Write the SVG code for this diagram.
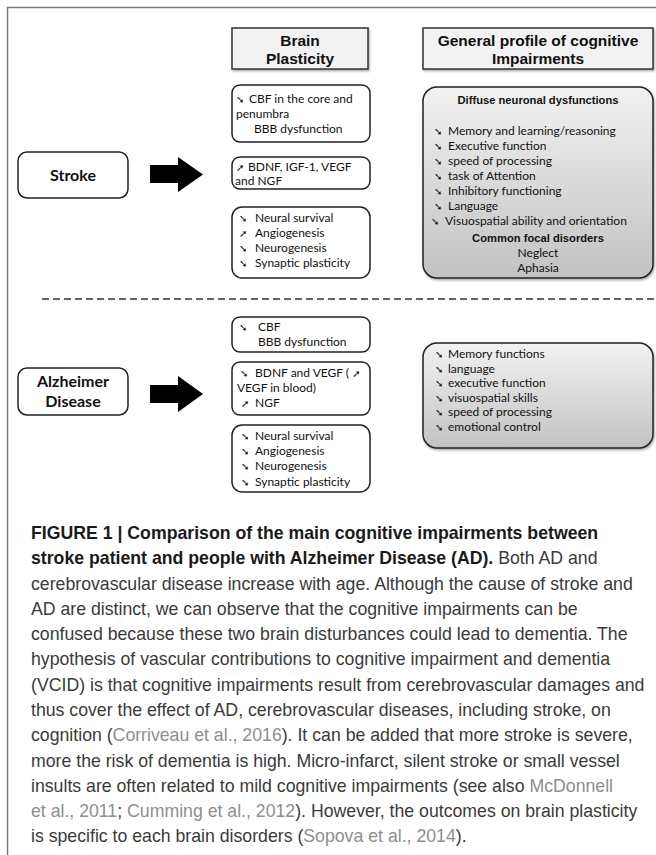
<svg xmlns="http://www.w3.org/2000/svg" width="656" height="855" viewBox="0 0 656 855">
<style>
.frame{fill:none;stroke:#7a7a7a;stroke-width:1.5}
.hdr{fill:#f2f2f2;stroke:#333;stroke-width:1.5}
.box{fill:#fff;stroke:#222;stroke-width:1.5}
.gbox{fill:url(#gg);stroke:#222;stroke-width:1.5}
.ht{font-family:"Liberation Sans",Arial,sans-serif;font-weight:bold;font-size:15.5px;fill:#111;text-anchor:middle}
.dt{font-family:Lato,"Liberation Sans",sans-serif;font-weight:bold;font-size:16px;fill:#111;text-anchor:middle}
.t{font-family:Lato,"Liberation Sans",sans-serif;font-size:12px;fill:#111}
.ar{font-family:"DejaVu Sans",sans-serif;font-size:10px;fill:#111}
.gt{font-family:"Liberation Sans",Arial,sans-serif;font-weight:bold;font-size:11.2px;fill:#111;text-anchor:middle}
.cap{font-family:"Liberation Sans",Arial,sans-serif;font-size:17.7px;fill:#3a3a3a}
.b{font-weight:bold;fill:#1a1a1a}
.ref{fill:#8e8e8e}
.dash{stroke:#333;stroke-width:1.5;stroke-dasharray:7 4;fill:none}
.bigarrow{fill:#000}
</style>
<defs>
<linearGradient id="gg" x1="0" y1="0" x2="0" y2="1">
<stop offset="0" stop-color="#f2f2f2"/>
<stop offset="1" stop-color="#c2c2c2"/>
</linearGradient>
<filter id="sh" x="-5%" y="-5%" width="115%" height="120%">
<feDropShadow dx="1" dy="1.5" stdDeviation="1" flood-color="#000" flood-opacity="0.35"/>
</filter>
</defs>

<path class="frame" d="M7.5 855 V7.5 H656"/>

<g id="hdr-brain">
<rect class="hdr" x="232" y="28" width="136" height="41" filter="url(#sh)"/>
<text class="ht" x="300" y="46">Brain</text>
<text class="ht" x="300" y="64">Plasticity</text>
</g>
<g id="hdr-profile">
<rect class="hdr" x="423" y="28" width="230" height="41" filter="url(#sh)"/>
<text class="ht" x="538" y="46">General profile of cognitive</text>
<text class="ht" x="538" y="64">Impairments</text>
</g>

<g id="stroke">
<rect class="box" x="18" y="152" width="110" height="46" rx="9"/>
<text class="dt" x="73" y="181">Stroke</text>
</g>

<g id="stroke-cbf">
<rect class="box" x="232" y="85" width="138" height="57" rx="8"/>
<text class="t" y="103"><tspan class="ar" x="236">➘</tspan><tspan x="249">CBF in the core and</tspan></text>
<text class="t" x="236" y="118">penumbra</text>
<text class="t" x="254" y="133">BBB dysfunction</text>
</g>
<g id="stroke-bdnf">
<rect class="box" x="232" y="157" width="138" height="32" rx="8"/>
<text class="t" y="171"><tspan class="ar" x="236">➚</tspan><tspan x="248">BDNF, IGF-1, VEGF</tspan></text>
<text class="t" x="235" y="185">and NGF</text>
</g>
<g id="stroke-neural">
<rect class="box" x="232" y="207" width="138" height="71" rx="10"/>
<text class="t" y="222"><tspan class="ar" x="239">➘</tspan><tspan x="255">Neural survival</tspan></text>
<text class="t" y="237"><tspan class="ar" x="239">➚</tspan><tspan x="255">Angiogenesis</tspan></text>
<text class="t" y="252"><tspan class="ar" x="239">➘</tspan><tspan x="255">Neurogenesis</tspan></text>
<text class="t" y="267"><tspan class="ar" x="239">➘</tspan><tspan x="255">Synaptic plasticity</tspan></text>
</g>
<g id="stroke-profile">
<rect class="gbox" x="423" y="87" width="230" height="191" rx="14" filter="url(#sh)"/>
<text class="gt" x="538" y="104">Diffuse neuronal dysfunctions</text>
<text class="t" y="135"><tspan class="ar" x="434">➘</tspan><tspan x="448">Memory and learning/reasoning</tspan></text>
<text class="t" y="150"><tspan class="ar" x="434">➘</tspan><tspan x="448">Executive function</tspan></text>
<text class="t" y="165"><tspan class="ar" x="434">➘</tspan><tspan x="448">speed of processing</tspan></text>
<text class="t" y="180"><tspan class="ar" x="434">➘</tspan><tspan x="448">task of Attention</tspan></text>
<text class="t" y="195"><tspan class="ar" x="434">➘</tspan><tspan x="448">Inhibitory functioning</tspan></text>
<text class="t" y="210"><tspan class="ar" x="434">➘</tspan><tspan x="448">Language</tspan></text>
<text class="t" y="225"><tspan class="ar" x="431">➘</tspan><tspan x="445">Visuospatial ability and orientation</tspan></text>
<text class="gt" x="538" y="242">Common focal disorders</text>
<text class="t" x="538" y="257" text-anchor="middle">Neglect</text>
<text class="t" x="538" y="272" text-anchor="middle">Aphasia</text>
</g>

<g id="alzheimer">
<rect class="box" x="18" y="368" width="110" height="47" rx="9"/>
<text class="dt" x="73" y="387">Alzheimer</text>
<text class="dt" x="73" y="407">Disease</text>
</g>
<g id="alz-cbf">
<rect class="box" x="232" y="317" width="138" height="35" rx="8"/>
<text class="t" y="331"><tspan class="ar" x="239">➘</tspan><tspan x="258">CBF</tspan></text>
<text class="t" x="258" y="346">BBB dysfunction</text>
</g>
<g id="alz-bdnf">
<rect class="box" x="232" y="362" width="138" height="53" rx="8"/>
<text class="t" y="377"><tspan class="ar" x="240">➘</tspan><tspan x="255">BDNF and VEGF ( </tspan><tspan class="ar">➚</tspan></text>
<text class="t" x="237" y="392">VEGF in blood)</text>
<text class="t" y="407"><tspan class="ar" x="241">➚</tspan><tspan x="255">NGF</tspan></text>
</g>
<g id="alz-neural">
<rect class="box" x="232" y="425" width="138" height="67" rx="10"/>
<text class="t" y="440"><tspan class="ar" x="241">➘</tspan><tspan x="255">Neural survival</tspan></text>
<text class="t" y="455"><tspan class="ar" x="241">➘</tspan><tspan x="255">Angiogenesis</tspan></text>
<text class="t" y="470"><tspan class="ar" x="241">➘</tspan><tspan x="255">Neurogenesis</tspan></text>
<text class="t" y="486"><tspan class="ar" x="241">➘</tspan><tspan x="255">Synaptic plasticity</tspan></text>
</g>
<g id="alz-profile">
<rect class="gbox" x="423" y="343" width="230" height="105" rx="14" filter="url(#sh)"/>
<text class="t" y="358"><tspan class="ar" x="435">➘</tspan><tspan x="448">Memory functions</tspan></text>
<text class="t" y="373"><tspan class="ar" x="435">➘</tspan><tspan x="448">language</tspan></text>
<text class="t" y="387"><tspan class="ar" x="435">➘</tspan><tspan x="448">executive function</tspan></text>
<text class="t" y="402"><tspan class="ar" x="435">➘</tspan><tspan x="448">visuospatial skills</tspan></text>
<text class="t" y="416"><tspan class="ar" x="435">➘</tspan><tspan x="448">speed of processing</tspan></text>
<text class="t" y="431"><tspan class="ar" x="435">➘</tspan><tspan x="448">emotional control</tspan></text>
</g>

<g id="connectors">
<path class="bigarrow" d="M150 165 H178 V157 L203 174.5 L178 192 V183 H150 Z"/>
<path class="bigarrow" d="M150 385 H178 V376 L203 394 L178 412 V403 H150 Z"/>
<path class="dash" d="M42 299 H656"/>
</g>

<g id="caption">
<text class="cap b" x="31" y="539">FIGURE 1 | Comparison of the main cognitive impairments between</text>
<text class="cap" x="31" y="564"><tspan class="b">stroke patient and people with Alzheimer Disease (AD).</tspan> Both AD and</text>
<text class="cap" x="31" y="589.5">cerebrovascular disease increase with age. Although the cause of stroke and</text>
<text class="cap" x="31" y="614.8">AD are distinct, we can observe that the cognitive impairments can be</text>
<text class="cap" x="31" y="640">confused because these two brain disturbances could lead to dementia. The</text>
<text class="cap" x="31" y="665.3">hypothesis of vascular contributions to cognitive impairment and dementia</text>
<text class="cap" x="31" y="690.6">(VCID) is that cognitive impairments result from cerebrovascular damages and</text>
<text class="cap" x="31" y="716">thus cover the effect of AD, cerebrovascular diseases, including stroke, on</text>
<text class="cap" x="31" y="741.2">cognition (<tspan class="ref">Corriveau et al., 2016</tspan>). It can be added that more stroke is severe,</text>
<text class="cap" x="31" y="766.5">more the risk of dementia is high. Micro-infarct, silent stroke or small vessel</text>
<text class="cap" x="31" y="791.8">insults are often related to mild cognitive impairments (see also <tspan class="ref">McDonnell</tspan></text>
<text class="cap" x="31" y="817"><tspan class="ref">et al., 2011</tspan>; <tspan class="ref">Cumming et al., 2012</tspan>). However, the outcomes on brain plasticity</text>
<text class="cap" x="31" y="842.3">is specific to each brain disorders (<tspan class="ref">Sopova et al., 2014</tspan>).</text>
</g>
</svg>
